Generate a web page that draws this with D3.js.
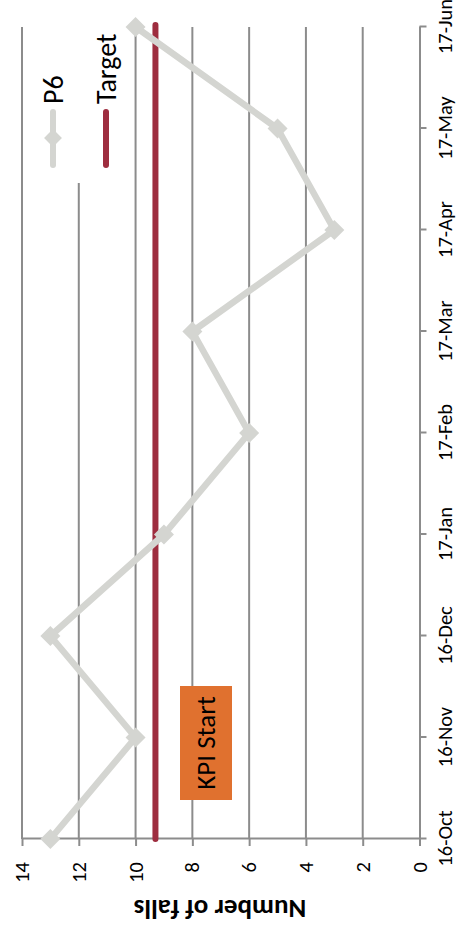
<!DOCTYPE html>
<meta charset="utf-8">
<script src="https://d3js.org/d3.v7.min.js"></script>
<style>
  body { margin: 0; background: #fff; }
  text { font-family: Carlito, Calibri, Lato, sans-serif; fill: #000; }
</style>
<div id="chart"></div>
<script>

// data
var months = ["16-Oct", "16-Nov", "16-Dec", "17-Jan", "17-Feb", "17-Mar", "17-Apr", "17-May", "17-Jun"];
var falls = [13, 10, 13, 9, 6, 8, 3, 5, 10];
var target = 9.3;
var yTicks = [0, 2, 4, 6, 8, 10, 12, 14];

var W = 458, H = 937;
var grey = "#8c8c8c";

var svg = d3.select("#chart").append("svg")
    .attr("width", W)
    .attr("height", H);

// the chart is laid out landscape, then turned a quarter to the left
var g = svg.append("g")
    .attr("transform", "translate(0," + H + ") rotate(-90)");

var x = d3.scalePoint().domain(months).range([98, 910]);
var y = d3.scaleLinear().domain([0, 14]).range([419.5, 22]);

// gridlines
g.append("g").selectAll("line")
  .data(yTicks.filter(function(d) { return d > 0; }))
  .enter().append("line")
    .attr("x1", x(months[0]))
    .attr("x2", x(months[months.length - 1]))
    .attr("y1", function(d) { return y(d); })
    .attr("y2", function(d) { return y(d); })
    .attr("stroke", grey)
    .attr("stroke-width", 2);

// legend box sits over the grid
g.append("rect")
    .attr("x", 754).attr("y", 28)
    .attr("width", 183).attr("height", 96)
    .attr("fill", "#fff");

// axes
var yAxis = g.append("g")
    .attr("transform", "translate(" + x(months[0]) + ",0)")
    .call(d3.axisLeft(y).tickValues(yTicks).tickSize(7).tickSizeOuter(0).tickPadding(16));

var xAxis = g.append("g")
    .attr("transform", "translate(0," + y(0) + ")")
    .call(d3.axisBottom(x).tickSize(7).tickSizeOuter(0).tickPadding(11));

[yAxis, xAxis].forEach(function(a) {
  a.selectAll("path, line").attr("stroke", grey).attr("stroke-width", 2);
  a.selectAll("text").style("font-size", "20.5px").attr("fill", "#000");
});

// KPI start label
g.append("rect")
    .attr("x", 137).attr("y", 180)
    .attr("width", 114).attr("height", 52)
    .attr("fill", "#e0712f");
g.append("text")
    .attr("x", 194).attr("y", 206)
    .attr("text-anchor", "middle")
    .attr("dy", "0.35em")
    .style("font-size", "27px")
    .text("KPI Start");

// target line
g.append("line")
    .attr("x1", x(months[0]))
    .attr("x2", x(months[months.length - 1]) + 2)
    .attr("y1", y(target))
    .attr("y2", y(target))
    .attr("stroke", "#9e2d3f")
    .attr("stroke-width", 6)
    .attr("stroke-linecap", "round");

// P6 series
var line = d3.line()
    .x(function(d, i) { return x(months[i]); })
    .y(function(d) { return y(d); });

g.append("path")
    .datum(falls)
    .attr("fill", "none")
    .attr("stroke", "#d4d5d1")
    .attr("stroke-width", 6.5)
    .attr("stroke-linejoin", "round")
    .attr("d", line);

var diamond = d3.symbol().type(d3.symbolSquare).size(200);
g.append("g").selectAll("path")
  .data(falls)
  .enter().append("path")
    .attr("d", diamond)
    .attr("fill", "#d4d5d1")
    .attr("transform", function(d, i) {
      return "translate(" + x(months[i]) + "," + y(d) + ") rotate(45)";
    });

// axis title
g.append("text")
    .attr("transform", "translate(37,220) rotate(-90)")
    .attr("text-anchor", "middle")
    .style("font-size", "27px")
    .style("font-weight", "bold")
    .text("Number of falls");

// legend
var legend = g.append("g");

legend.append("line")
    .attr("x1", 772).attr("x2", 825)
    .attr("y1", 53).attr("y2", 53)
    .attr("stroke", "#d4d5d1")
    .attr("stroke-width", 6)
    .attr("stroke-linecap", "round");
legend.append("path")
    .attr("d", d3.symbol().type(d3.symbolSquare).size(160))
    .attr("fill", "#d4d5d1")
    .attr("transform", "translate(799,53) rotate(45)");
legend.append("text")
    .attr("x", 833).attr("y", 53)
    .attr("dy", "0.35em")
    .style("font-size", "28px")
    .text("P6");

legend.append("line")
    .attr("x1", 772).attr("x2", 825)
    .attr("y1", 106).attr("y2", 106)
    .attr("stroke", "#9e2d3f")
    .attr("stroke-width", 6)
    .attr("stroke-linecap", "round");
legend.append("text")
    .attr("x", 833).attr("y", 106)
    .attr("dy", "0.35em")
    .style("font-size", "28px")
    .text("Target");

</script>
